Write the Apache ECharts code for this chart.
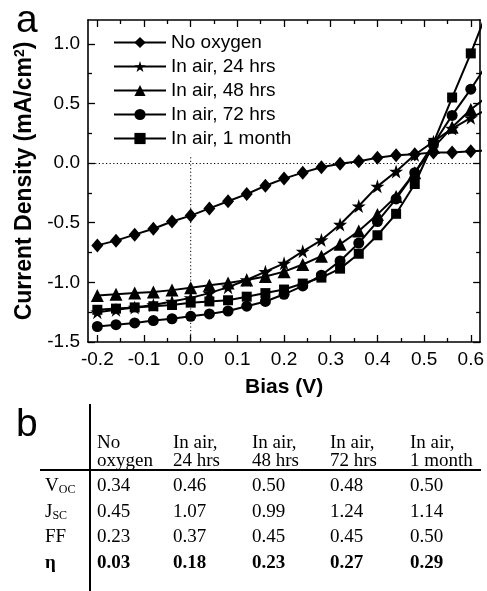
<!DOCTYPE html>
<html>
<head>
<meta charset="utf-8">
<script src="https://cdn.jsdelivr.net/npm/echarts@6/dist/echarts.min.js"></script>
<style>
html,body{margin:0;padding:0;background:#fff;}
#c{width:487px;height:591px;}
</style>
</head>
<body>
<div id="c"></div>
<script>
// ---- data ----
const bias = [-0.2,-0.16,-0.12,-0.08,-0.04,0.0,0.04,0.08,0.12,0.16,0.2,0.24,0.28,0.32,0.36,0.4,0.44,0.48,0.52,0.56,0.6,0.64];
const seriesNames = ['No oxygen','In air, 24 hrs','In air, 48 hrs','In air, 72 hrs','In air, 1 month'];
const noOxygen = [-0.69,-0.65,-0.60,-0.55,-0.49,-0.44,-0.38,-0.32,-0.26,-0.19,-0.13,-0.08,-0.035,-0.005,0.015,0.045,0.065,0.075,0.09,0.09,0.10,0.105];
const air24h  = [-1.25,-1.23,-1.21,-1.19,-1.16,-1.13,-1.09,-1.04,-0.98,-0.91,-0.84,-0.74,-0.645,-0.515,-0.36,-0.195,-0.07,0.07,0.18,0.29,0.38,0.46];
const air48h  = [-1.11,-1.10,-1.09,-1.08,-1.065,-1.045,-1.025,-1.005,-0.98,-0.95,-0.91,-0.85,-0.78,-0.68,-0.57,-0.43,-0.28,-0.08,0.13,0.30,0.45,0.57];
const air72h  = [-1.37,-1.355,-1.34,-1.32,-1.305,-1.285,-1.265,-1.24,-1.20,-1.16,-1.10,-1.03,-0.94,-0.82,-0.67,-0.49,-0.30,-0.08,0.16,0.40,0.62,0.86];
const air1m   = [-1.23,-1.22,-1.21,-1.20,-1.19,-1.17,-1.16,-1.15,-1.12,-1.09,-1.06,-1.01,-0.96,-0.885,-0.76,-0.605,-0.425,-0.175,0.17,0.55,0.92,1.32];

const xMajorTicks = [-0.2,-0.1,0.0,0.1,0.2,0.3,0.4,0.5,0.6];
const xMinorTicks = [-0.15,-0.05,0.05,0.15,0.25,0.35,0.45,0.55];
const yMajorTicks = [-1.5,-1.0,-0.5,0.0,0.5,1.0];
const yMinorTicks = [-1.25,-0.75,-0.25,0.25,0.75];
// reference guide lines: J = 0 across, V = 0 below the legend
const zeroVLine = [[0,-1.5],[0,0.07]];

// table (panel b)
const tableHead1 = ['No','In air,','In air,','In air,','In air,'];
const tableHead2 = ['oxygen','24 hrs','48 hrs','72 hrs','1 month'];
const rowMain = ['V','J','FF','\u03b7'];
const rowSub  = ['OC','SC','',''];
const rowVoc = ['0.34','0.46','0.50','0.48','0.50'];
const rowJsc = ['0.45','1.07','0.99','1.24','1.14'];
const rowFF  = ['0.23','0.37','0.45','0.45','0.50'];
const rowEta = ['0.03','0.18','0.23','0.27','0.29'];

// ---- styles ----
const SANS = '"Liberation Sans", Arial, sans-serif';
const SERIF = '"Liberation Serif", "Times New Roman", serif';
const starPath = 'path://M50,0 L61.2,34.5 L97.6,34.5 L68.2,55.9 L79.4,90.5 L50,69.1 L20.6,90.5 L31.8,55.9 L2.4,34.5 L38.8,34.5 Z';
const symbols = ['diamond', starPath, 'triangle', 'circle', 'rect'];
const symbolSizes = [[12,14], 14, 13, 11, 10];
const allValues = [noOxygen, air24h, air48h, air72h, air1m];

const X_MIN = -0.22, X_MAX = 0.62, Y_MIN = -1.5, Y_MAX = 1.2;

function axisBase(extra, lineShow){
  return Object.assign({
    type:'value', splitLine:{show:false},
    axisLine:{show:lineShow!==false, onZero:false, lineStyle:{color:'#000', width:1.6}},
    axisLabel:{show:false},
  }, extra);
}
const majTick = (vals)=>({show:true, inside:true, length:7, lineStyle:{color:'#000',width:1.3}, customValues:vals});
const minTick = (vals)=>({show:true, inside:true, length:4, lineStyle:{color:'#000',width:1.3}, customValues:vals});

const xAxes = [
  axisBase({position:'bottom', min:X_MIN, max:X_MAX, axisTick:majTick(xMajorTicks),
    axisLabel:{show:true, customValues:xMajorTicks, color:'#000', fontFamily:SANS, fontSize:19, margin:8,
      formatter:v=>v.toFixed(1)},
    name:'Bias (V)', nameLocation:'middle', nameGap:35,
    nameTextStyle:{fontFamily:SANS, fontWeight:'bold', fontSize:21, color:'#000'}}),
  axisBase({position:'bottom', min:X_MIN, max:X_MAX, axisTick:minTick(xMinorTicks)}, false),
  axisBase({position:'top', min:X_MIN, max:X_MAX, axisTick:majTick(xMajorTicks)}),
  axisBase({position:'top', min:X_MIN, max:X_MAX, axisTick:minTick(xMinorTicks)}, false)
];
const yAxes = [
  axisBase({position:'left', min:Y_MIN, max:Y_MAX, axisTick:majTick(yMajorTicks),
    axisLabel:{show:true, customValues:yMajorTicks, color:'#000', fontFamily:SANS, fontSize:19, margin:8,
      formatter:v=>v.toFixed(1)},
    name:'Current Density (mA/cm{sup|2})', nameLocation:'middle', nameGap:47, nameRotate:90,
    nameTextStyle:{fontFamily:SANS, fontWeight:'bold', fontSize:23, color:'#000',
      rich:{sup:{fontFamily:SANS, fontWeight:'bold', fontSize:14, color:'#000', verticalAlign:'top', lineHeight:23}}}}),
  axisBase({position:'left', min:Y_MIN, max:Y_MAX, axisTick:minTick(yMinorTicks)}, false),
  axisBase({position:'right', min:Y_MIN, max:Y_MAX, axisTick:majTick(yMajorTicks)}),
  axisBase({position:'right', min:Y_MIN, max:Y_MAX, axisTick:minTick(yMinorTicks)}, false)
];

const series = seriesNames.map((name,i)=>({
  name, type:'line', xAxisIndex:0, yAxisIndex:0,
  data: bias.map((b,k)=>[b, allValues[i][k]]),
  symbol: symbols[i], symbolSize: symbolSizes[i], showAllSymbol:true, clip:true,
  lineStyle:{color:'#000', width:2}, itemStyle:{color:'#000'},
  animation:false, z:3+i
}));
// dotted guide at J = 0
series[0].markLine = {
  silent:true, symbol:['none','none'], label:{show:false}, animation:false,
  lineStyle:{color:'#000', type:[1.2,2.4], width:1},
  data:[ {yAxis:0} ]
};
// dotted guide at V = 0
series.push({
  name:'guideV', type:'line', xAxisIndex:0, yAxisIndex:0, data:zeroVLine,
  symbol:'none', silent:true, animation:false, z:1,
  lineStyle:{color:'#000', type:[1.2,2.4], width:1}
});

// ---- table graphics ----
const colX = [97,173,252,330,410];
const graphic = [];
function txt(x,y,text,font,extra){
  graphic.push({type:'text', x, y, silent:true,
    style:Object.assign({text, font, fill:'#000', align:'left', verticalAlign:'middle'}, extra||{})});
}
txt(16, 21, 'a', '39px '+SANS);
txt(16, 425, 'b', '39px '+SANS);
const tfont = '19px '+SERIF, tbold = 'bold 19px '+SERIF;
tableHead1.forEach((t,i)=>txt(colX[i], 443, t, tfont));
tableHead2.forEach((t,i)=>txt(colX[i], 461, t, tfont));
const rowY = [486, 512, 537, 563];
const rowVals = [rowVoc, rowJsc, rowFF, rowEta];
rowMain.forEach((m,r)=>{
  const bold = r===3;
  graphic.push({type:'text', x:45, y:rowY[r], silent:true,
    style:{text: rowSub[r] ? m+'{s|'+rowSub[r]+'}' : m, font:(bold?'bold ':'')+'19px '+SERIF, fill:'#000',
      align:'left', verticalAlign:'middle',
      rich:{s:{fontFamily:SERIF, fontSize:12, fill:'#000', verticalAlign:'bottom', lineHeight:19, padding:[6,0,0,0]}}}});
  rowVals[r].forEach((v,i)=>txt(colX[i], rowY[r], v, bold?tbold:tfont));
});
graphic.push({type:'line', silent:true, shape:{x1:40,y1:470,x2:481,y2:470}, style:{stroke:'#000', lineWidth:2}});
graphic.push({type:'line', silent:true, shape:{x1:90,y1:404,x2:90,y2:591}, style:{stroke:'#000', lineWidth:2}});

const option = {
  backgroundColor:'#fff',
  animation:false,
  grid:{left:88, right:2, top:20, bottom:249, containLabel:false},
  xAxis:xAxes, yAxis:yAxes,
  legend:{
    data:seriesNames, orient:'vertical', left:113, top:33, padding:0,
    itemWidth:52, itemHeight:14, itemGap:5,
    textStyle:{fontFamily:SANS, fontSize:19, color:'#000', lineHeight:19},
    selectedMode:false
  },
  series, graphic
};
const chart = echarts.init(document.getElementById('c'), null, {renderer:'canvas'});
chart.setOption(option);
</script>
</body>
</html>
